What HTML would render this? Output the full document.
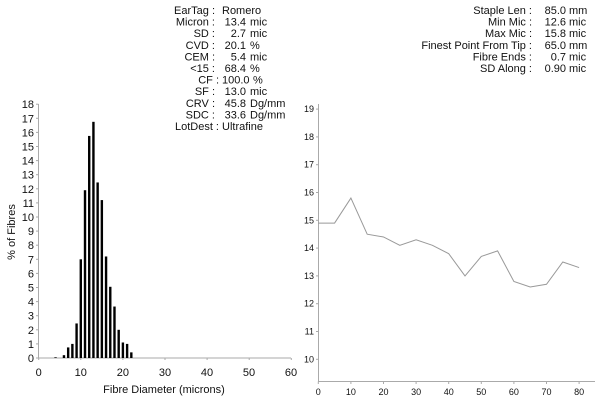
<!DOCTYPE html>
<html><head><meta charset="utf-8"><style>
html,body{margin:0;padding:0;background:#fff;}
svg{display:block;font-family:"Liberation Sans",Arial,sans-serif;}
</style></head><body>
<svg width="601" height="400" viewBox="0 0 601 400" xmlns="http://www.w3.org/2000/svg">
<g font-size="11" fill="#111">
<!-- left stats -->
<g text-anchor="end">
<text x="215" y="14">EarTag :</text>
<text x="215" y="25.6">Micron :</text>
<text x="215" y="37.2">SD :</text>
<text x="215" y="48.8">CVD :</text>
<text x="215" y="60.4">CEM :</text>
<text x="215" y="72">&lt;15 :</text>
<text x="219" y="83.6">CF :</text>
<text x="215" y="95.2">SF :</text>
<text x="215" y="106.8">CRV :</text>
<text x="215" y="118.4">SDC :</text>
<text x="219" y="130">LotDest :</text>
<text x="246" y="25.6">13.4</text>
<text x="246" y="37.2">2.7</text>
<text x="246" y="48.8">20.1</text>
<text x="246" y="60.4">5.4</text>
<text x="246" y="72">68.4</text>
<text x="246" y="95.2">13.0</text>
<text x="246" y="106.8">45.8</text>
<text x="246" y="118.4">33.6</text>
</g>
<text x="222" y="14">Romero</text>
<text x="222" y="83.6">100.0</text>
<text x="250" y="25.6">mic</text>
<text x="250" y="37.2">mic</text>
<text x="250" y="48.8">%</text>
<text x="250" y="60.4">mic</text>
<text x="250" y="72">%</text>
<text x="253" y="83.6">%</text>
<text x="250" y="95.2">mic</text>
<text x="250" y="106.8">Dg/mm</text>
<text x="250" y="118.4">Dg/mm</text>
<text x="222" y="130">Ultrafine</text>
<!-- right stats -->
<g text-anchor="end">
<text x="532" y="14">Staple Len :</text>
<text x="532" y="25.6">Min Mic :</text>
<text x="532" y="37.2">Max Mic :</text>
<text x="532" y="48.8">Finest Point From Tip :</text>
<text x="532" y="60.4">Fibre Ends :</text>
<text x="532" y="72">SD Along :</text>
<text x="566" y="14">85.0</text>
<text x="566" y="25.6">12.6</text>
<text x="566" y="37.2">15.8</text>
<text x="566" y="48.8">65.0</text>
<text x="566" y="60.4">0.7</text>
<text x="566" y="72">0.90</text>
</g>
<text x="569" y="14">mm</text>
<text x="569" y="25.6">mic</text>
<text x="569" y="37.2">mic</text>
<text x="569" y="48.8">mm</text>
<text x="569" y="60.4">mic</text>
<text x="569" y="72">mic</text>
</g>

<!-- left chart -->
<g stroke="#aaa" stroke-width="1" fill="none">
<line x1="38.5" y1="104" x2="38.5" y2="358"/>
<line x1="38.5" y1="358" x2="291" y2="358"/>
</g>
<g id="lt" stroke="#aaa" stroke-width="1"></g>
<g font-size="11" fill="#111" text-anchor="end" id="ly"></g>
<g font-size="11" fill="#111" text-anchor="middle">
<text x="38.7" y="376">0</text>
<text x="80.8" y="376">10</text>
<text x="122.9" y="376">20</text>
<text x="165" y="376">30</text>
<text x="207" y="376">40</text>
<text x="249" y="376">50</text>
<text x="291" y="376">60</text>
<text x="164" y="393">Fibre Diameter (microns)</text>
<text transform="translate(15,232) rotate(-90)">% of Fibres</text>
</g>
<g id="bars" fill="#000"></g>

<!-- right chart -->
<g stroke="#aaa" stroke-width="1" fill="none">
<line x1="318.5" y1="104" x2="318.5" y2="381.5"/>
<line x1="318.5" y1="381.5" x2="595" y2="381.5"/>
</g>
<g id="rt" stroke="#aaa"></g>
<g font-size="9" fill="#111" text-anchor="end" id="ry"></g>
<g font-size="9" fill="#111" text-anchor="middle" id="rx"></g>
<polyline id="ln" fill="none" stroke="#999" stroke-width="1"/>
</svg>
<script>
var NS="http://www.w3.org/2000/svg";
function el(p,t,a,txt){var e=document.createElementNS(NS,t);for(var k in a)e.setAttribute(k,a[k]);if(txt!=null)e.textContent=txt;document.getElementById(p).appendChild(e);}
function ly(v){return 358-v*14.1;}
function lx(v){return 38.7+v*4.21;}
for(var i=0;i<=18;i++){el('ly','text',{x:34,y:ly(i)+4},i);el('lt','line',{x1:36,x2:38.5,y1:ly(i),y2:ly(i)});}
for(var i=0;i<=60;i+=10){el('lt','line',{x1:lx(i),x2:lx(i),y1:358,y2:360});}
var b={4:0.05,6:0.2,7:0.75,8:1.0,9:2.45,10:7.0,11:11.9,12:15.75,13:16.75,14:12.45,15:11.2,16:7.2,17:5.05,18:3.65,19:2.0,20:1.1,21:1.0,22:0.4};
for(var k in b){var x=lx(+k);el('bars','rect',{x:x-1.2,y:ly(b[k]),width:2.4,height:b[k]*14.1});}
function ry(v){return 359.3-(v-10)*27.8;}
function rx(v){return 318.3+v*3.26;}
for(var i=10;i<=19;i++){el('ry','text',{x:314,y:ry(i)+3},i);el('rt','line',{x1:316,x2:318.5,y1:ry(i),y2:ry(i)});}
for(var i=0;i<=80;i+=10){el('rx','text',{x:rx(i),y:395},i);el('rt','line',{x1:rx(i),x2:rx(i),y1:381.5,y2:384});}
var d=[14.9,14.9,15.8,14.5,14.4,14.1,14.3,14.1,13.8,13.0,13.7,13.9,12.8,12.6,12.7,13.5,13.3];
document.getElementById('ln').setAttribute('points',d.map(function(v,i){return rx(i*5)+','+ry(v);}).join(' '));
</script>
</body></html>
